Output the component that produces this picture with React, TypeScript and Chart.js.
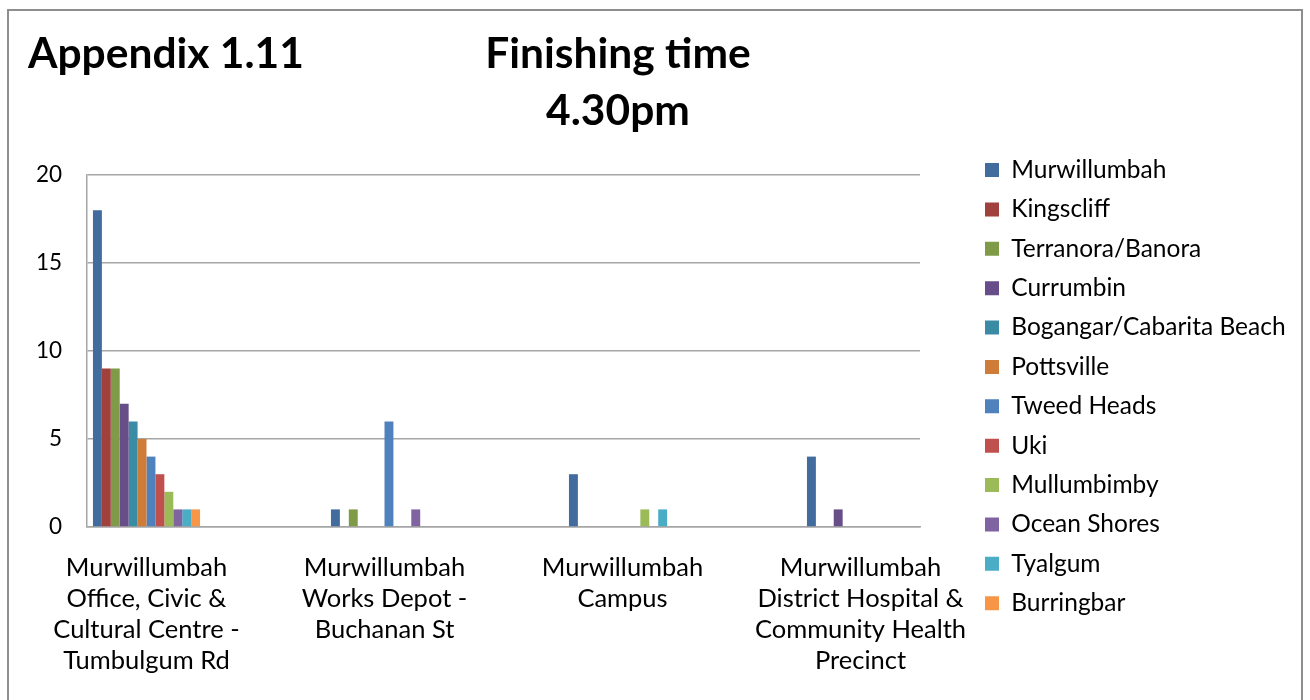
import React, { useEffect, useRef } from 'react';
import { Chart, registerables } from 'chart.js';

Chart.register(...registerables);

// ---- data ----
const categoryLabels: string[][] = [
  ['Murwillumbah', 'Office, Civic &', 'Cultural Centre -', 'Tumbulgum Rd'],
  ['Murwillumbah', 'Works Depot -', 'Buchanan St'],
  ['Murwillumbah', 'Campus'],
  ['Murwillumbah', 'District Hospital &', 'Community Health', 'Precinct'],
];

const seriesNames = [
  'Murwillumbah',
  'Kingscliff',
  'Terranora/Banora',
  'Currumbin',
  'Bogangar/Cabarita Beach',
  'Pottsville',
  'Tweed Heads',
  'Uki',
  'Mullumbimby',
  'Ocean Shores',
  'Tyalgum',
  'Burringbar',
];

const murwillumbah = [18, 1, 3, 4];
const kingscliff = [9, 0, 0, 0];
const terranoraBanora = [9, 1, 0, 0];
const currumbin = [7, 0, 0, 1];
const bogangarCabarita = [6, 0, 0, 0];
const pottsville = [5, 0, 0, 0];
const tweedHeads = [4, 6, 0, 0];
const uki = [3, 0, 0, 0];
const mullumbimby = [2, 0, 1, 0];
const oceanShores = [1, 1, 0, 0];
const tyalgum = [1, 0, 1, 0];
const burringbar = [1, 0, 0, 0];

const seriesValues = [
  murwillumbah, kingscliff, terranoraBanora, currumbin, bogangarCabarita, pottsville,
  tweedHeads, uki, mullumbimby, oceanShores, tyalgum, burringbar,
];

const seriesColors = [
  '#426B9E', '#A0413E', '#7F9B47', '#674E88', '#3A8CA4', '#CF7C39',
  '#4F81BD', '#C0504D', '#9BBB59', '#8064A2', '#4BACC6', '#F79646',
];

const yMin = 0;
const yMax = 20;
const yStep = 5;

const chartTitle = 'Appendix 1.11';
const chartSubtitle = ['Finishing time', '4.30pm'];

const FONT = 'Lato';
const GRID = '#a6a6a6';
const CANVAS_W = 1310;
const LEGEND_LEFT = 970.125;

export default function App() {
  const canvasRef = useRef<HTMLCanvasElement | null>(null);

  useEffect(() => {
    if (!canvasRef.current) return;
    const datasets = seriesNames.map((name, s) => ({
      label: name,
      data: seriesValues[s].map((v, i) => ({ x: i, y: v })),
      backgroundColor: seriesColors[s],
      borderWidth: 0,
      categoryPercentage: 0.45,
      barPercentage: 1.0,
    }));

    const chart = new Chart(canvasRef.current, {
      type: 'bar',
      data: { datasets },
      options: {
        animation: false,
        responsive: false,
        devicePixelRatio: 1,
        font: { family: FONT },
        layout: { padding: { left: 28, top: 10, right: 27, bottom: 24 } },
        plugins: {
          tooltip: { enabled: false },
          title: {
            display: true,
            text: chartTitle,
            align: 'start',
            color: '#000',
            font: { family: FONT, size: 42.5, weight: 'bold', lineHeight: 1.2 },
            padding: { top: 19.2, bottom: 94.8 },
          },
          legend: {
            position: 'right',
            align: 'start',
            maxWidth: 600,
            title: {
              display: true,
              text: ' ',
              font: { family: FONT, size: 10, lineHeight: 1 },
              padding: { top: 122.875, bottom: 0 },
            },
            labels: {
              boxWidth: 14,
              boxHeight: 14,
              padding: 14.875,
              color: '#000',
              font: { family: FONT, size: 24.5 },
            },
          },
        },
        scales: {
          x: {
            type: 'linear',
            min: -0.25,
            max: 3.25,
            offset: false,
            grid: { display: false, drawTicks: false },
            border: { display: true, color: GRID, width: 1.5 },
            afterBuildTicks: (s: any) => {
              s.ticks = categoryLabels.map((_, i) => ({ value: i }));
            },
            afterFit: (s: any) => {
              s.height = 149;
            },
            ticks: {
              autoSkip: false,
              maxRotation: 0,
              minRotation: 0,
              padding: 25.6,
              color: '#000',
              font: { family: FONT, size: 25.5, lineHeight: 1.208 },
              callback: (v: any) => categoryLabels[Math.round(Number(v))] ?? '',
            },
          },
          y: {
            type: 'linear',
            position: 'left',
            min: yMin,
            max: yMax,
            grid: { color: GRID, lineWidth: 1.5, drawTicks: false },
            border: { display: true, color: GRID, width: 1.5 },
            afterFit: (s: any) => {
              s.width = 59;
            },
            ticks: {
              stepSize: yStep,
              padding: 25,
              color: '#000',
              font: { family: FONT, size: 22.5 },
            },
          },
          yGap: {
            type: 'linear',
            position: 'right',
            display: true,
            grid: { display: false, drawTicks: false },
            border: { display: false },
            ticks: { display: false },
            afterFit: (s: any) => {
              s.width = 50.125;
            },
          },
        },
      } as any,
    });

    // second pass: right padding so that the legend starts where the reference has it
    const lw = chart.legend ? chart.legend.width : 0;
    (chart.options as any).layout.padding.right = Math.max(0, CANVAS_W - LEGEND_LEFT - lw);
    chart.update();

    return () => chart.destroy();
  }, []);

  return (
    <div
      style={{
        position: 'fixed',
        left: 0,
        top: 0,
        width: 1310,
        height: 700,
        overflow: 'hidden',
        background: '#fff',
      }}
    >
      <div
        style={{
          position: 'absolute',
          left: 7,
          top: 9,
          width: 1292,
          height: 720,
          border: '2px solid #8e8e8e',
        }}
      />
      <canvas
        ref={canvasRef}
        width={1310}
        height={700}
        style={{ position: 'absolute', left: 0, top: 0, width: 1310, height: 700 }}
      />
      <div
        style={{
          position: 'absolute',
          left: 0,
          top: 23,
          width: 1236,
          textAlign: 'center',
          fontFamily: FONT,
          fontWeight: 'bold',
          fontSize: 42.5,
          lineHeight: '57px',
          color: '#000',
        }}
      >
        {chartSubtitle.map((line) => (
          <div key={line}>{line}</div>
        ))}
      </div>
    </div>
  );
}
